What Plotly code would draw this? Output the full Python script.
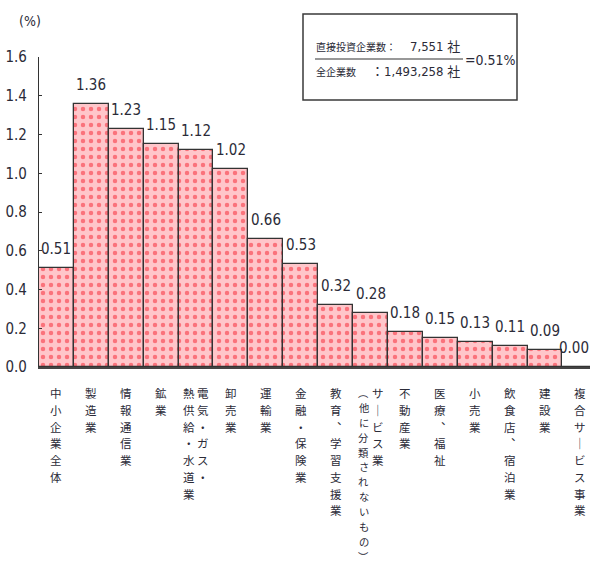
import plotly.graph_objects as go

# Direct-investment ratio by industry (%)
categories = [
    "中小企業全体", "製造業", "情報通信業", "鉱業",
    "電気・ガス・熱供給・水道業", "卸売業", "運輸業", "金融・保険業",
    "教育、学習支援業", "サービス業（他に分類されないもの）", "不動産業",
    "医療、福祉", "小売業", "飲食店、宿泊業", "建設業", "複合サービス事業",
]
values = [0.51, 1.36, 1.23, 1.15, 1.12, 1.02, 0.66, 0.53,
          0.32, 0.28, 0.18, 0.15, 0.13, 0.11, 0.09, 0.00]
value_labels = [f"{v:.2f}" for v in values]

# Vertical (tategaki) label columns, right column first
label_columns = [
    ["中小企業全体"], ["製造業"], ["情報通信業"], ["鉱業"],
    ["電気・ガス・", "熱供給・水道業"], ["卸売業"], ["運輸業"], ["金融・保険業"],
    ["教育︑学習支援業"], ["サ｜ビス業", "︵他に分類されないもの︶"], ["不動産業"],
    ["医療︑福祉"], ["小売業"], ["飲食店︑宿泊業"], ["建設業"], ["複合サ｜ビス事業"],
]

y_ticks = [0.0, 0.2, 0.4, 0.6, 0.8, 1.0, 1.2, 1.4, 1.6]

W, H = 590, 568
L, R, T, B = 39, 0, 57, 201
PW, PH = W - L - R, H - T - B

TXT = "#2b2b38"
NUM_FONT = "Liberation Sans Narrow, DejaVu Sans Condensed, Liberation Sans, sans-serif"
JP_FONT = "Noto Sans CJK JP, sans-serif"
MIX_FONT = "DejaVu Sans Condensed, Noto Sans CJK JP, sans-serif"


def px(x):
    return (x - L) / PW


def py(y):
    return (H - B - y) / PH


xs = list(range(len(categories)))

fig = go.Figure()
fig.add_trace(go.Bar(
    x=xs, y=values, width=1.0,
    marker=dict(
        color="#ffc6ca",
        line=dict(color="#333333", width=1.3),
        pattern=dict(shape=".", fgcolor="#f5202e", bgcolor="#ffc6ca",
                     size=8, solidity=0.25, fillmode="overlay"),
    ),
    hoverinfo="skip",
))

annotations = []
# value labels above bars
for x, v, t in zip(xs, values, value_labels):
    annotations.append(dict(
        x=x, y=v, xref="x", yref="y", text=t, showarrow=False,
        yanchor="middle", yshift=19, xshift=(-6 if x == xs[-1] else 0),
        font=dict(family=NUM_FONT, size=15, color=TXT),
    ))

# vertical category labels, one character per cell
LABEL_TOP = 385
for x, cols in zip(xs, label_columns):
    n = len(cols)
    for j, col in enumerate(cols):
        shift = 0 if n == 1 else (7 if j == 0 else -7)
        step = 16.7 if len(col) <= 10 else 14.9
        fsize = 11.5 if len(col) <= 10 else 10.3
        for k, ch in enumerate(col):
            cy = LABEL_TOP + step * (k + 0.5)
            annotations.append(dict(
                x=x, y=py(cy), xref="x", yref="paper", text=ch,
                showarrow=False, xanchor="center", yanchor="middle",
                xshift=shift,
                font=dict(family=JP_FONT, size=fsize, color=TXT),
            ))

# unit label
annotations.append(dict(
    x=px(30), y=py(21), xref="paper", yref="paper", text="(%)",
    showarrow=False, xanchor="center", yanchor="middle",
    font=dict(family=NUM_FONT, size=14, color=TXT),
))

# formula box text
box_font = dict(family=JP_FONT, size=10, color=TXT)
num_font = dict(family=MIX_FONT, size=13, color=TXT)
annotations += [
    dict(x=px(314), y=py(46), xref="paper", yref="paper", text="直接投資企業数：",
         showarrow=False, xanchor="left", yanchor="middle", font=box_font),
    dict(x=px(462), y=py(46), xref="paper", yref="paper", text="7,551 社",
         showarrow=False, xanchor="right", yanchor="middle", font=num_font),
    dict(x=px(314), y=py(71), xref="paper", yref="paper", text="全企業数",
         showarrow=False, xanchor="left", yanchor="middle", font=box_font),
    dict(x=px(462), y=py(71), xref="paper", yref="paper", text="：1,493,258 社",
         showarrow=False, xanchor="right", yanchor="middle", font=num_font),
    dict(x=px(463), y=py(60), xref="paper", yref="paper", text="=0.51%",
         showarrow=False, xanchor="left", yanchor="middle",
         font=dict(family=NUM_FONT, size=14, color=TXT)),
]

shapes = [
    dict(type="rect", xref="paper", yref="paper",
         x0=px(303), x1=px(517), y0=py(100), y1=py(14),
         line=dict(color="#3a3a3a", width=1.5), fillcolor="rgba(0,0,0,0)"),
    dict(type="line", xref="paper", yref="paper",
         x0=px(315), x1=px(463), y0=py(59), y1=py(59),
         line=dict(color="#333333", width=1.2)),
]

fig.update_layout(
    width=W, height=H,
    margin=dict(l=L, r=R, t=T, b=B, pad=0),
    paper_bgcolor="white", plot_bgcolor="white",
    showlegend=False, bargap=0,
    annotations=annotations, shapes=shapes,
    xaxis=dict(
        range=[-0.5, 15.29], showticklabels=False, ticks="",
        showgrid=False, zeroline=False,
        showline=True, linecolor="#444444", linewidth=1.5,
    ),
    yaxis=dict(
        range=[0, 1.6], tickvals=y_ticks,
        ticktext=[f"{t:.1f}" for t in y_ticks],
        ticks="inside", ticklen=3, tickcolor="#333333",
        showgrid=False, zeroline=False,
        showline=True, linecolor="#333333", linewidth=1.3,
        tickfont=dict(family=NUM_FONT, size=15, color=TXT),
        ticklabelstandoff=8,
    ),
)

fig.write_html("out.html")
